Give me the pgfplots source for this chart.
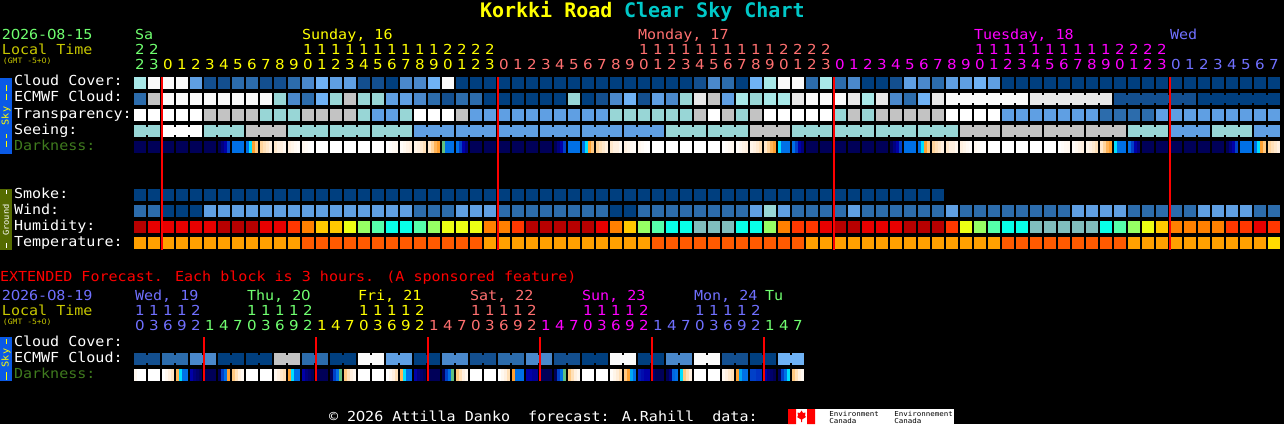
\documentclass[border=0pt]{standalone}
\usepackage{fontspec}
\setmainfont[FakeStretch=1.09]{DejaVu Sans Mono}
\newfontfamily\dsans[FakeStretch=1.09]{DejaVu Sans}
\newfontfamily\ttl{DejaVu Sans Mono}
\usepackage{pgfplots}
\usepackage{pgfplotstable}
\pgfplotsset{compat=1.18}
\newcommand{\Z}{\makebox[0.656em]{\dsans 0}}

% level colours
\definecolor{cl0}{HTML}{003F7F}\definecolor{cl1}{HTML}{134F8F}\definecolor{cl2}{HTML}{2C6CAC}
\definecolor{cl3}{HTML}{4A88CB}\definecolor{cl4}{HTML}{5F9FE3}\definecolor{cl5}{HTML}{6FB2F5}
\definecolor{cl6}{HTML}{98D6D6}\definecolor{cl7}{HTML}{A8E8E8}\definecolor{cl8}{HTML}{C3C3C3}
\definecolor{cl9}{HTML}{E8E8E8}\definecolor{cl10}{HTML}{FAFAFA}\definecolor{cl11}{HTML}{FFFFFF}
\definecolor{hu20}{HTML}{B80000}\definecolor{hu21}{HTML}{E80000}\definecolor{hu23}{HTML}{FF3700}
\definecolor{hu24}{HTML}{FF8000}\definecolor{hu25}{HTML}{FFC800}\definecolor{hu26}{HTML}{ECFF14}
\definecolor{hu27}{HTML}{96FF64}\definecolor{hu28}{HTML}{55FFAA}\definecolor{hu29}{HTML}{08FFE8}
\definecolor{hu30}{HTML}{80BEBE}
\definecolor{te40}{HTML}{FFA000}\definecolor{te41}{HTML}{FF5A00}\definecolor{te42}{HTML}{FFDC00}
\definecolor{tgreen}{HTML}{70FF70}\definecolor{tyellow}{HTML}{FFFF00}\definecolor{tsalmon}{HTML}{FF7070}
\definecolor{tmag}{HTML}{FF00FF}\definecolor{tblue}{HTML}{7070FF}\definecolor{tolive}{HTML}{C8C800}
\definecolor{tdark}{HTML}{3F7A1E}\definecolor{tcyan}{HTML}{00C8C8}\definecolor{skyb}{HTML}{0A5AE6}
\definecolor{grnd}{HTML}{556B00}\definecolor{lred}{HTML}{FE0000}

% block, bridge and strip marks, in units of 1 px = 0.5 pt
\pgfdeclareplotmark{block}{\pgfpathrectangle{\pgfpoint{-3pt}{-3pt}}{\pgfpoint{6pt}{6pt}}\pgfusepathqfill}
\pgfdeclareplotmark{bridge}{\pgfpathrectangle{\pgfpoint{-0.6pt}{-2pt}}{\pgfpoint{1.2pt}{4pt}}\pgfusepathqfill}
\pgfdeclareplotmark{strip}{\pgfpathrectangle{\pgfpoint{-0.75pt}{-3pt}}{\pgfpoint{1.5pt}{6pt}}\pgfusepathqfill}
\pgfdeclareplotmark{blank}{}

\pgfplotsset{
 levels/.style={only marks,scatter,scatter src=explicit symbolic,
  scatter/classes={
   0={mark=#1,fill=cl0},1={mark=#1,fill=cl1},2={mark=#1,fill=cl2},3={mark=#1,fill=cl3},
   4={mark=#1,fill=cl4},5={mark=#1,fill=cl5},6={mark=#1,fill=cl6},7={mark=#1,fill=cl7},
   8={mark=#1,fill=cl8},9={mark=#1,fill=cl9},10={mark=#1,fill=cl10},11={mark=#1,fill=cl11},
   20={mark=#1,fill=hu20},21={mark=#1,fill=hu21},23={mark=#1,fill=hu23},24={mark=#1,fill=hu24},
   25={mark=#1,fill=hu25},26={mark=#1,fill=hu26},27={mark=#1,fill=hu27},28={mark=#1,fill=hu28},
   29={mark=#1,fill=hu29},30={mark=#1,fill=hu30},
   40={mark=#1,fill=te40},41={mark=#1,fill=te41},42={mark=#1,fill=te42},
   99={mark=blank}}},
 dark/.style={only marks,scatter,scatter src=explicit,mark=strip},
}

% x: block centre; cc cloud, ec ECMWF, tr transparency, se seeing, sb/eb joins to the next block,
% sm smoke, wi wind, hu humidity, te temperature, d1-d4 darkness across the block
\pgfplotstableread{
x cc ec tr se sb eb sm wi hu te d1 d2 d3 d4
140 7 2 11 6 6 99 0 2 20 40 0 0 0 0
154 10 8 11 6 99 99 0 2 21 40 0 0 0 0
168 10 10 11 11 11 99 0 0 21 40 0 0 0 0
182 10 10 11 11 11 99 0 0 21 40 0 0 0 0
196 4 10 11 11 99 99 0 0 21 40 0 0 0 0
210 1 10 8 6 6 99 0 4 21 40 0 0 0 0
224 1 10 8 6 6 99 0 4 20 40 0 1 2 3
238 2 10 8 6 99 99 0 4 20 40 4 4 4 4
252 2 10 8 8 8 99 0 4 20 40 4 5 7 8
266 1 10 6 8 8 99 0 4 21 40 8.5 9 9.5 10
280 1 6 6 8 99 99 0 4 21 40 9.5 10 10 10.5
294 2 3 6 6 6 99 0 4 23 40 10 10.3 10.6 10.8
308 3 2 8 6 6 99 0 4 24 41 10.5 10.7 10.9 11
322 5 5 8 6 99 99 0 4 25 41 11 11 11 11
336 4 6 8 6 6 99 0 4 25 41 11 11 11 11
350 4 8 8 6 6 99 0 4 26 41 11 11 11 11
364 1 6 6 6 99 99 0 4 27 41 11 11 11 11
378 1 6 4 6 6 99 0 4 28 41 11 11 11 11
392 0 4 4 6 6 99 0 4 29 41 11 10.8 10.6 10.5
406 3 4 6 6 99 99 0 4 29 41 10.8 10.5 10.2 10
420 3 3 11 4 4 99 0 2 28 41 10.3 10 9.6 9
434 5 2 11 4 4 99 0 2 27 41 9.5 8.5 7.5 7
448 10 1 11 4 99 99 0 2 26 41 6 4 4 4
462 0 2 8 4 4 99 0 4 26 41 4 3 2 1
476 0 2 4 4 4 99 0 4 26 41 0 0 0 0
490 0 0 4 4 99 99 0 4 24 40 0 0 0 0
504 0 0 4 4 4 99 0 2 24 40 0 0 0 0
518 0 0 4 4 4 99 0 2 23 40 0 0 0 0
532 0 0 4 4 99 99 0 2 20 40 0 0 0 0
546 0 0 4 4 4 99 0 2 20 40 0 0 0 0
560 0 0 4 4 4 99 0 2 20 40 0 1 2 3
574 0 6 4 4 99 99 0 2 20 40 4 4 4 4
588 0 0 4 4 4 99 0 2 20 40 4 5 7 8
602 0 1 4 4 4 99 0 2 21 40 8.5 9 9.5 10
616 0 3 6 4 99 99 0 0 24 40 9.5 10 10 10.5
630 0 5 6 4 4 99 0 0 25 40 10 10.3 10.6 10.8
644 0 1 6 4 4 99 0 2 27 40 10.5 10.7 10.9 11
658 0 4 6 4 99 99 0 2 28 41 11 11 11 11
672 0 3 6 6 6 99 0 2 29 41 11 11 11 11
686 0 6 6 6 6 99 0 2 29 41 11 11 11 11
700 1 9 8 6 99 99 0 2 30 41 11 11 11 11
714 3 8 11 6 6 99 0 2 30 41 11 11 11 11
728 2 4 8 6 6 99 0 2 30 41 11 10.8 10.6 10.5
742 0 7 6 6 99 99 0 2 29 41 10.8 10.5 10.2 10
756 5 6 8 8 8 99 0 4 29 41 10.3 10 9.6 9
770 7 7 11 8 8 99 0 6 27 41 9.5 8.5 7.5 7
784 10 7 11 8 99 99 0 4 24 41 5 4 4 4
798 10 9 11 6 6 99 0 2 23 41 4 3 2 1
812 2 10 11 6 6 99 0 2 23 40 0 0 0 0
826 7 10 11 6 99 99 0 2 21 40 0 0 0 0
840 2 10 6 6 6 99 0 2 20 40 0 0 0 0
854 3 9 8 6 6 99 0 4 20 40 0 0 0 0
868 0 7 6 6 99 99 0 2 21 40 0 0 0 0
882 0 9 8 6 6 99 0 2 21 40 0 0 0 0
896 1 3 8 6 6 99 0 2 21 40 0 1 2 3
910 4 2 8 6 99 99 0 2 20 40 4 4 4 4
924 3 5 8 6 6 99 0 2 20 40 4 5 7 8
938 2 9 8 6 6 99 0 2 20 40 8.5 9 9.5 10
952 4 10 11 6 99 10 99 4 23 40 9.5 10 10 10.5
966 4 10 11 8 8 10 99 2 26 40 10 10.3 10.6 10.8
980 5 10 11 8 8 10 99 2 27 40 10.5 10.7 10.9 11
994 4 10 11 8 99 10 99 2 28 40 11 11 11 11
1008 0 10 4 8 8 10 99 2 29 41 11 11 11 11
1022 0 10 4 8 8 99 99 2 29 41 11 11 11 11
1036 0 9 4 8 99 9 99 2 30 41 11 11 11 11
1050 0 9 4 8 8 9 99 2 30 41 11 11 11 11
1064 0 9 4 8 8 9 99 2 30 41 11 10.8 10.6 10.5
1078 0 9 4 8 99 9 99 4 30 41 10.8 10.5 10.2 10
1092 0 9 4 8 8 9 99 4 30 41 10.3 10 9.6 9
1106 0 9 2 8 8 99 99 4 29 41 9.5 8.5 7.5 7
1120 0 1 2 8 99 1 99 4 28 41 5 4 4 4
1134 0 1 2 6 6 1 99 2 27 40 4 3 2 1
1148 0 1 2 6 6 1 99 2 26 40 0 0 0 0
1162 0 1 4 6 99 1 99 2 25 40 0 0 0 0
1176 0 1 4 4 4 1 99 2 24 40 0 0 0 0
1190 0 1 4 4 4 99 99 2 24 40 0 0 0 0
1204 0 0 4 4 99 0 99 4 24 40 0 0 0 0
1218 0 0 4 6 6 0 99 4 24 40 0 0 0 0
1232 0 0 4 6 6 0 99 4 23 40 0 1 2 3
1246 0 0 4 6 99 0 99 4 23 40 4 4 4 4
1260 0 0 4 4 4 0 99 2 21 40 4 5 7 8
1274 0 0 4 4 99 99 99 2 23 42 8.5 9 9.5 10
}\maintable

% extended forecast
\pgfplotstableread{
x ec eb d1 d2 d3 d4
140 1 1 10.5 11 11 11
154 1 99 11 11 11 11
168 2 2 11 10.5 10 9.3
182 2 99 7.5 5 4 4
196 3 3 2 1 0.5 0
210 3 99 0 0 0 0
224 0 0 0 3 4 7
238 0 99 8 9 10 10.5
252 0 0 11 11 11 11
266 0 99 11 11 11 11
280 8 8 10.5 10 9.5 9
294 8 99 7 5 4 4
308 2 2 2 1 0.5 0
322 2 99 0 0 0 0
336 0 0 0 3 4 6
350 0 99 8 9 10 10.5
364 10 10 11 11 11 11
378 10 99 11 11 11 11
392 4 4 11 10.5 10 9
406 4 99 7.5 5 4 4
420 0 0 2 1 0.5 0
434 0 99 0 0 0 0
448 3 3 0 3 4 6
462 3 99 8 9 10 10.5
476 1 1 11 11 11 11
490 1 99 11 11 11 11
504 2 2 11 10.5 10 9
518 2 99 7 4 4 4
532 3 3 2 2 1.5 1.5
546 3 99 0 0 0 0
560 1 1 0 3 4 6
574 1 99 8 9 10 10.5
588 0 0 11 11 11 11
602 0 99 11 11 11 11
616 10 10 10.8 10.3 9.8 9
630 10 99 8 7 4.5 4
644 0 0 2.4 2.2 2 2
658 0 99 0.5 0 0 0
672 3 3 0 1 3.8 4
686 3 99 5 8 9 10
700 10 10 11 11 11 11
714 10 99 11 11 11 11
728 1 1 10.5 10 9.5 9
742 1 99 7 4.5 4 4
756 0 0 3 3 2.8 2.8
770 0 99 2 1 0.5 0
784 5 5 0 3 4 5
798 5 99 8 9 10 10.5
}\exttable

\newcommand{\hrrow}[3]{% colour, first block, last block
 \foreach \i in {#2,...,#3}{%
  \pgfmathtruncatemacro{\hh}{mod(\i+22,24)}%
  \pgfmathtruncatemacro{\hT}{int(\hh/10)}%
  \pgfmathtruncatemacro{\hU}{mod(\hh,10)}%
  \node[txt,#1,anchor=base] at ({140+14*\i},70) {\dsans\hU};
  \ifnum\hh>9 \node[txt,#1,anchor=base] at ({140+14*\i},55) {\dsans\hT};\fi
 }}
\newcommand{\exrow}[3]{% colour, first block, last block
 \foreach \i in {#2,...,#3}{%
  \pgfmathtruncatemacro{\hh}{mod(10+3*\i,24)}%
  \pgfmathtruncatemacro{\hT}{int(\hh/10)}%
  \pgfmathtruncatemacro{\hU}{mod(\hh,10)}%
  \node[txt,#1,anchor=base] at ({140+14*\i},330) {\dsans\hU};
  \ifnum\hh>9 \node[txt,#1,anchor=base] at ({140+14*\i},315) {\dsans\hT};\fi
 }}

\begin{document}
\begin{tikzpicture}
\fill[black] (0,0) rectangle (642pt,212pt);
\begin{axis}[
  at={(0,0)},anchor=south west,scale only axis,width=642pt,height=212pt,
  xmin=0,xmax=1284,ymin=0,ymax=424,y dir=reverse,hide axis,clip=false,
  set layers=standard,
  point meta min=0,point meta max=11,
  colormap={darkness}{rgb255(0cm)=(0,0,88); rgb255(1cm)=(0,0,128); rgb255(2cm)=(0,0,168);
   rgb255(3cm)=(0,64,200); rgb255(4cm)=(0,112,230); rgb255(5cm)=(0,224,255); rgb255(6cm)=(96,192,128);
   rgb255(7cm)=(255,160,48); rgb255(8cm)=(255,200,128); rgb255(9cm)=(255,224,184);
   rgb255(10cm)=(255,240,224); rgb255(11cm)=(255,255,255)},
 ]
\addplot[levels=block] table[x=x,y expr=83,meta=cc]{\maintable};
\addplot[levels=block] table[x=x,y expr=99,meta=ec]{\maintable};
\addplot[levels=bridge] table[x expr=\thisrow{x}+7,y expr=99,meta=eb]{\maintable};
\addplot[levels=block] table[x=x,y expr=115,meta=tr]{\maintable};
\addplot[levels=block] table[x=x,y expr=131,meta=se]{\maintable};
\addplot[levels=bridge] table[x expr=\thisrow{x}+7,y expr=131,meta=sb]{\maintable};
\addplot[dark] table[x expr=\thisrow{x}-4.5,y expr=147,meta=d1]{\maintable};
\addplot[dark] table[x expr=\thisrow{x}-1.5,y expr=147,meta=d2]{\maintable};
\addplot[dark] table[x expr=\thisrow{x}+1.5,y expr=147,meta=d3]{\maintable};
\addplot[dark] table[x expr=\thisrow{x}+4.5,y expr=147,meta=d4]{\maintable};
\addplot[levels=block] table[x=x,y expr=195,meta=sm]{\maintable};
\addplot[levels=block] table[x=x,y expr=211,meta=wi]{\maintable};
\addplot[levels=block] table[x=x,y expr=227,meta=hu]{\maintable};
\addplot[levels=block] table[x=x,y expr=243,meta=te]{\maintable};
\addplot[levels=block] table[x=x,y expr=359,meta=ec]{\exttable};
\addplot[levels=bridge] table[x expr=\thisrow{x}+7,y expr=359,meta=eb]{\exttable};
\addplot[dark] table[x expr=\thisrow{x}-4.5,y expr=375,meta=d1]{\exttable};
\addplot[dark] table[x expr=\thisrow{x}-1.5,y expr=375,meta=d2]{\exttable};
\addplot[dark] table[x expr=\thisrow{x}+1.5,y expr=375,meta=d3]{\exttable};
\addplot[dark] table[x expr=\thisrow{x}+4.5,y expr=375,meta=d4]{\exttable};
% midnight lines
\pgfplotsset{every axis plot/.append style={on layer=axis foreground}}
\addplot[lred,line width=1pt] coordinates {(162,77)(162,250)};
\addplot[lred,line width=1pt] coordinates {(498,77)(498,250)};
\addplot[lred,line width=1pt] coordinates {(834,77)(834,250)};
\addplot[lred,line width=1pt] coordinates {(1170,77)(1170,250)};
\addplot[lred,line width=1pt] coordinates {(204,337)(204,381)};
\addplot[lred,line width=1pt] coordinates {(316,337)(316,381)};
\addplot[lred,line width=1pt] coordinates {(428,337)(428,381)};
\addplot[lred,line width=1pt] coordinates {(540,337)(540,381)};
\addplot[lred,line width=1pt] coordinates {(652,337)(652,381)};
\addplot[lred,line width=1pt] coordinates {(764,337)(764,381)};
\end{axis}
\begin{scope}[shift={(0,212pt)},x=0.5pt,y=-0.5pt,
  txt/.style={inner sep=0pt,outer sep=0pt,font=\fontsize{6.9pt}{8pt}\selectfont},
  lab/.style={txt,anchor=base west,white}]
% title
\node[txt,anchor=base west,tyellow,font=\fontsize{10pt}{11pt}\selectfont\ttl\bfseries] at (480,18) {Korkki Road};
\node[txt,anchor=base west,tcyan,font=\fontsize{10pt}{11pt}\selectfont\ttl\bfseries] at (624,18) {Clear Sky Chart};
% header
\node[txt,anchor=base west,tgreen] at (2,40) {2\Z26-\Z8-15};
\node[txt,anchor=base west,tolive] at (2,55) {Local Time};
\node[txt,anchor=base west,tolive,font=\fontsize{3.7pt}{5pt}\selectfont] at (3,64) {(GMT -5+\Z)};
\node[txt,anchor=base west,tgreen] at (135,40) {Sa};
\node[txt,anchor=base west,tyellow] at (302,40) {Sunday, 16};
\node[txt,anchor=base west,tsalmon] at (638,40) {Monday, 17};
\node[txt,anchor=base west,tmag] at (974,40) {Tuesday, 18};
\node[txt,anchor=base west,tblue] at (1170,40) {Wed};
\hrrow{tgreen}{0}{1}\hrrow{tyellow}{2}{25}\hrrow{tsalmon}{26}{49}\hrrow{tmag}{50}{73}\hrrow{tblue}{74}{81}
% row labels
\node[lab] at (14,86) {Cloud Cover:};
\node[lab] at (14,102) {ECMWF Cloud:};
\node[lab] at (14,118) {Transparency:};
\node[lab] at (14,134) {Seeing:};
\node[lab,tdark] at (14,150) {Darkness:};
\node[lab] at (14,198) {Smoke:};
\node[lab] at (14,214) {Wind:};
\node[lab] at (14,230) {Humidity:};
\node[lab] at (14,246) {Temperature:};
% side bars
\fill[skyb] (0,78) rectangle (12,154);
\fill[grnd] (0,189) rectangle (12,250);
\fill[skyb] (0,337) rectangle (12,381);
\draw[tyellow,line width=0.5pt] (6,85)--(6,91) (6,94)--(6,100) (6,134)--(6,138) (6,141)--(6,147);
\node[txt,tyellow,rotate=90,font=\fontsize{4.7pt}{6pt}\selectfont] at (6,116) {Sky};
\draw[white,line width=0.5pt] (6,190)--(6,194) (6,243)--(6,248);
\node[txt,white,rotate=90,font=\fontsize{4pt}{5pt}\selectfont] at (6,220) {Ground};
\draw[tyellow,line width=0.5pt] (6,339)--(6,344) (6,372)--(6,380);
\node[txt,tyellow,rotate=90,font=\fontsize{4.7pt}{6pt}\selectfont] at (6,358) {Sky};
% extended
\node[txt,anchor=base west,lred] at (0,281) {EXTENDED Forecast. Each block is 3 hours. (A sponsored feature)};
\node[txt,anchor=base west,tblue] at (2,300) {2\Z26-\Z8-19};
\node[txt,anchor=base west,tolive] at (2,315) {Local Time};
\node[txt,anchor=base west,tolive,font=\fontsize{3.7pt}{5pt}\selectfont] at (3,324) {(GMT -5+\Z)};
\node[txt,anchor=base west,tblue] at (135,300) {Wed, 19};
\node[txt,anchor=base west,tgreen] at (247,300) {Thu, 2\Z};
\node[txt,anchor=base west,tyellow] at (358,300) {Fri, 21};
\node[txt,anchor=base west,tsalmon] at (470,300) {Sat, 22};
\node[txt,anchor=base west,tmag] at (582,300) {Sun, 23};
\node[txt,anchor=base west,tblue] at (694,300) {Mon, 24};
\node[txt,anchor=base west,tgreen] at (765,300) {Tu};
\exrow{tblue}{0}{4}\exrow{tgreen}{5}{12}\exrow{tyellow}{13}{20}\exrow{tsalmon}{21}{28}\exrow{tmag}{29}{36}\exrow{tblue}{37}{44}\exrow{tgreen}{45}{47}
\node[lab] at (14,346) {Cloud Cover:};
\node[lab] at (14,362) {ECMWF Cloud:};
\node[lab,tdark] at (14,378) {Darkness:};
% footer
\node[lab] at (329,421) {© 2\Z26 Attilla Danko\ \ forecast: A.Rahill\ \ data:};
\fill[white] (788,409) rectangle (954,424);
\fill[red] (788,409) rectangle (796,424) (807,409) rectangle (815,424);
\fill[red] (801.5,410.5)--(803,413)--(805.5,412.5)--(805,416)--(806,417)--(802,419.5)--(802,422)--(801,422)--(801,419.5)--(797,417)--(798,416)--(797.5,412.5)--(800,413)--cycle;
\begin{scope}[every node/.style={inner sep=0pt,black,anchor=base west,font=\fontsize{3.43pt}{4pt}\selectfont}]
\node at (829,416) {Environment};
\node at (829,423) {Canada};
\node at (894,416) {Environnement};
\node at (894,423) {Canada};
\end{scope}
\end{scope}
\end{tikzpicture}
\end{document}
